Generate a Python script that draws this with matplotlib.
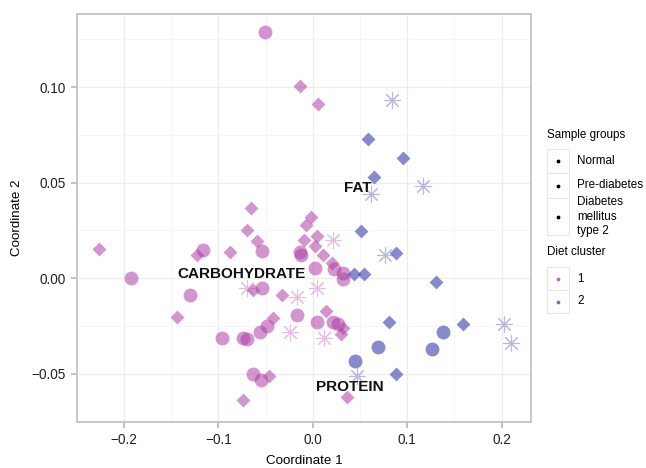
import matplotlib
matplotlib.use("Agg")
import matplotlib.pyplot as plt
from matplotlib.patches import Rectangle
import numpy as np

plt.rcParams['font.family'] = ['Liberation Sans', 'DejaVu Sans']

# ---- data: cluster 1 (pink) ----
c1_normal_x = [-0.051, -0.193, -0.130, -0.116, -0.054, -0.054, -0.017, -0.096, -0.074, -0.070,
               -0.056, -0.049, -0.063, -0.055, -0.012, -0.014, 0.002, 0.023, 0.032, 0.032,
               0.004, 0.021, 0.027]
c1_normal_y = [0.129, 0.000, -0.009, 0.015, 0.0145, -0.005, -0.019, -0.031, -0.031, -0.032,
               -0.028, -0.025, -0.050, -0.053, 0.012, 0.014, 0.0055, 0.0047, 0.003, -0.0005,
               -0.023, -0.023, -0.024]
c1_pre_x = [-0.014, 0.006, -0.226, -0.123, -0.088, -0.065, -0.070, -0.0595, -0.063, -0.033,
            -0.144, -0.042, -0.046, -0.074, -0.002, -0.007, -0.009, 0.004, 0.002, 0.011,
            0.020, 0.014, 0.032, 0.030, 0.036]
c1_pre_y = [0.1005, 0.091, 0.0155, 0.0124, 0.0138, 0.037, 0.0254, 0.0195, -0.006, -0.009,
            -0.020, -0.021, -0.051, -0.0635, 0.032, 0.028, 0.020, 0.022, 0.017, 0.012,
            0.008, -0.017, -0.026, -0.029, -0.062]
c1_dm2_x = [-0.070, -0.017, -0.024, 0.021, 0.004, 0.012]
c1_dm2_y = [-0.005, -0.010, -0.028, 0.020, -0.005, -0.031]

# ---- data: cluster 2 (blue) ----
c2_normal_x = [0.138, 0.126, 0.069, 0.045]
c2_normal_y = [-0.028, -0.037, -0.036, -0.043]
c2_pre_x = [0.044, 0.0545, 0.051, 0.088, 0.131, 0.081, 0.159, 0.088, 0.058, 0.096, 0.065]
c2_pre_y = [0.002, 0.002, 0.0246, 0.013, -0.002, -0.023, -0.024, -0.050, 0.073, 0.063, 0.053]
c2_dm2_x = [0.084, 0.062, 0.117, 0.076, 0.047, 0.203, 0.210]
c2_dm2_y = [0.093, 0.044, 0.048, 0.012, -0.051, -0.024, -0.034]

# nutrient labels
label_text = ["CARBOHYDRATE", "FAT", "PROTEIN"]
label_x = [-0.0753, 0.048, 0.0395]
label_y = [0.002, 0.047, -0.057]

group_names = ["Normal", "Pre-diabetes", "Diabetes\nmellitus\ntype 2"]
cluster_names = ["1", "2"]

xticks = [-0.2, -0.1, 0.0, 0.1, 0.2]
yticks = [-0.05, 0.00, 0.05, 0.10]

pink = '#ad3fa4'
blue = '#4a4ab5'

W, H = 646, 468
fig = plt.figure(figsize=(W / 100, H / 100), dpi=100)
ax = fig.add_axes([76.7 / W, 1 - 421.7 / H, (531 - 76.7) / W, (421.7 - 14) / H])

ax.set_xlim(-0.2472, 0.2311)
ax.set_ylim(-0.0731, 0.1382)
ax.set_xticks(xticks)
ax.set_xticklabels(['\u22120.2', '\u22120.1', '0.0', '0.1', '0.2'])
ax.set_yticks(yticks)
ax.set_yticklabels(['\u22120.05', '0.00', '0.05', '0.10'])
ax.set_xticks([-0.25, -0.15, -0.05, 0.05, 0.15], minor=True)
ax.set_yticks([-0.075, -0.025, 0.025, 0.075, 0.125], minor=True)
ax.grid(True, which='major', color='#ececec', lw=0.9, zorder=0)
ax.grid(True, which='minor', color='#f6f6f6', lw=0.7, zorder=0)
ax.set_axisbelow(True)
for s in ax.spines.values():
    s.set_color('#c4c4c4')
    s.set_linewidth(1.3)
ax.tick_params(which='major', direction='out', length=4, width=1.1, color='#b0b0b0',
               labelsize=9.8, labelcolor='#222222', pad=4)
ax.tick_params(which='minor', length=0)
ax.set_xlabel('Coordinate 1', fontsize=9.6, labelpad=6)
ax.set_ylabel('Coordinate 2', fontsize=9.6, labelpad=6)

for t, x, y in zip(label_text, label_x, label_y):
    ax.text(x, y, t, fontsize=11, fontweight='bold', ha='center', va='center',
            color='#111111', zorder=2)

s_circle = 100
s_diam = 50
s_ast = 135
for col, al, nx, ny, px, py, dx, dy in [
        (pink, 0.55, c1_normal_x, c1_normal_y, c1_pre_x, c1_pre_y, c1_dm2_x, c1_dm2_y),
        (blue, 0.65, c2_normal_x, c2_normal_y, c2_pre_x, c2_pre_y, c2_dm2_x, c2_dm2_y)]:
    ax.scatter(nx, ny, s=s_circle, marker='o', color=col, alpha=al, linewidths=0, zorder=3)
    ax.scatter(px, py, s=s_diam, marker='D', color=col, alpha=al, linewidths=0, zorder=3)
    ax.scatter(dx, dy, s=s_ast, marker=(8, 2, 0), color=col, alpha=al * 0.6,
               linewidths=0.8, zorder=3)

# ---- legend (drawn in pixel coordinates) ----
lg = fig.add_axes([0, 0, 1, 1], zorder=5)
lg.set_xlim(0, W)
lg.set_ylim(H, 0)
lg.axis('off')
kx, kw = 547, 22
fs = 8.4
lg.text(kx, 135, 'Sample groups', fontsize=fs, va='center', ha='left')
key_tops = [149, 173, 198]
key_h = [24, 25, 37]
for top, h, name in zip(key_tops, key_h, group_names):
    lg.add_patch(Rectangle((kx, top), kw, h, facecolor='white', edgecolor='#e6e6e6', lw=0.8))
    lg.scatter([kx + kw / 2], [top + h / 2], s=3, color='black', zorder=6)
    lg.text(kx + kw + 8, top + h / 2, name, fontsize=fs, va='center', ha='left',
            linespacing=1.3)
lg.text(kx, 252, 'Diet cluster', fontsize=fs, va='center', ha='left')
for i, (name, col) in enumerate(zip(cluster_names, [pink, blue])):
    top = 267 + i * 23
    lg.add_patch(Rectangle((kx, top), kw, 23, facecolor='white', edgecolor='#e6e6e6', lw=0.8))
    lg.scatter([kx + kw / 2], [top + 11.5], s=3, color=col, alpha=0.7, zorder=6)
    lg.text(kx + kw + 8, top + 11.5, name, fontsize=fs, va='center', ha='left')

fig.savefig('out.png', dpi=100)
